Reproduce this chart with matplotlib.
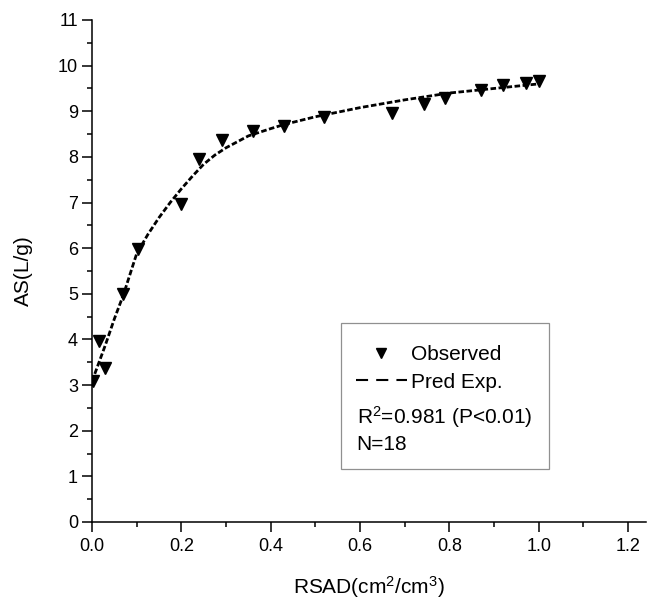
import matplotlib
matplotlib.use("Agg")
import matplotlib.pyplot as plt
from matplotlib.patches import Rectangle
from matplotlib.lines import Line2D
from matplotlib.ticker import MultipleLocator

plt.rcParams['font.family'] = ['Liberation Sans', 'DejaVu Sans']
plt.rcParams['mathtext.default'] = 'regular'

# observed points
rsad_obs = [0.003, 0.016, 0.030, 0.069, 0.102, 0.199, 0.240, 0.290, 0.361, 0.430,
            0.520, 0.671, 0.742, 0.790, 0.870, 0.921, 0.971, 1.000]
as_obs = [3.08, 3.97, 3.37, 5.00, 5.98, 6.97, 7.95, 8.38, 8.57, 8.67,
          8.87, 8.97, 9.17, 9.28, 9.47, 9.57, 9.62, 9.67]

# fitted exponential curve, sampled from the figure
rsad_fit = [0.0, 0.03, 0.05, 0.07, 0.1, 0.125, 0.15, 0.175, 0.2, 0.225, 0.25, 0.275,
            0.3, 0.35, 0.4, 0.43, 0.5, 0.6, 0.7, 0.8, 0.9, 1.0]
as_fit = [3.08, 3.88, 4.45, 4.97, 5.88, 6.3, 6.67, 7.0, 7.3, 7.58, 7.84, 8.04,
          8.2, 8.46, 8.62, 8.71, 8.88, 9.08, 9.25, 9.40, 9.50, 9.60]

fig = plt.figure(figsize=(6.47, 6.02), dpi=100)
ax = fig.add_axes([92/647, 1-522/602, 554/647, 502/602])

ax.plot(rsad_obs, as_obs, linestyle='none', marker='v', ms=8, color='k')
ax.plot(rsad_fit, as_fit, color='k', lw=2.0, dashes=(2.0, 0.9))

ax.set_xlim(0, 1.24)
ax.set_ylim(0, 11)
ax.xaxis.set_major_locator(MultipleLocator(0.2))
ax.xaxis.set_minor_locator(MultipleLocator(0.1))
ax.yaxis.set_major_locator(MultipleLocator(1))
ax.yaxis.set_minor_locator(MultipleLocator(0.5))
ax.xaxis.set_major_formatter(plt.FormatStrFormatter('%.1f'))

for s in ['top', 'right']:
    ax.spines[s].set_visible(False)
for s in ['left', 'bottom']:
    ax.spines[s].set_linewidth(1.1)

ax.tick_params(which='major', direction='out', length=7, width=1.1, labelsize=13)
ax.tick_params(which='minor', direction='out', length=3.5, width=1.1)
ax.tick_params(axis='x', which='major', pad=4.5)
ax.tick_params(axis='y', which='major', pad=3)

ax.set_xlabel('RSAD(cm$^2$/cm$^3$)', fontsize=15)
ax.set_ylabel('AS(L/g)', fontsize=15)
ax.xaxis.set_label_coords(0.5, -0.104)
ax.yaxis.set_label_coords(-0.1065, 0.5)

# legend box
fig.patches.append(Rectangle((341/647, 1-468.7/602), 207.7/647, 145.4/602,
                             transform=fig.transFigure, fill=False,
                             edgecolor='#909090', lw=0.9))
h_obs = Line2D([], [], linestyle='none', marker='v', ms=6.5, color='k')
h_fit = Line2D([], [], color='k', lw=1.5, dashes=(5.8, 3.9))
leg = ax.legend([h_obs, h_fit], ['Observed', 'Pred Exp.'],
                loc='upper left', bbox_to_anchor=(356/647, 1-345/602),
                bbox_transform=fig.transFigure, frameon=False, fontsize=15,
                numpoints=1, handlelength=2.43, handletextpad=0.19,
                borderpad=0, borderaxespad=0, labelspacing=0.42)
fig.text(356.7/647, 1-416.7/602, 'R$^2$=0.981 (P<0.01)', fontsize=15, va='center')
fig.text(356.7/647, 1-445/602, 'N=18', fontsize=15, va='center')

fig.savefig('out.png', dpi=100)
